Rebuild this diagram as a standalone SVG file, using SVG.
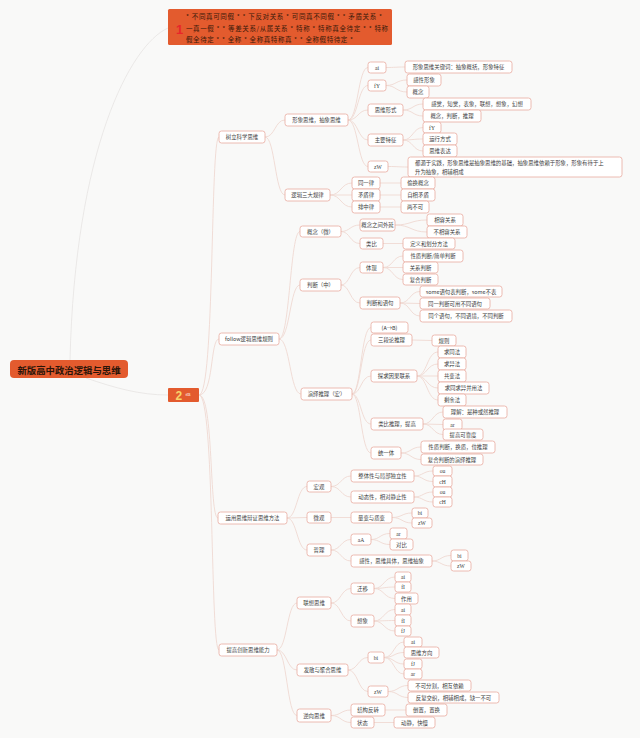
<svg xmlns="http://www.w3.org/2000/svg" width="640" height="738" viewBox="0 0 640 738">
<style>
.n rect{fill:#fff;stroke:#e9aba0;stroke-width:0.8}
.n text{font-family:"Noto Sans CJK SC","Liberation Sans",sans-serif;font-size:5.4px;fill:#3c3c3c;text-anchor:middle;dominant-baseline:central}
.n text.l{font-family:"Liberation Serif","Noto Sans CJK SC",serif;font-size:5.6px}
#links path{fill:none;stroke:#efd9d3;stroke-width:0.9}
#links path.g{stroke:#e4e1e0;stroke-width:0.7}
.big rect{fill:#e35b2e;stroke:none}
.hd{font-family:"Noto Sans CJK SC","Liberation Sans",sans-serif;font-size:6.5px;fill:#3a1a0a;dominant-baseline:central}
</style>
<rect width="640" height="738" fill="#f9f9f8"/>
<g id="links">
<path class="g" d="M70 360C75 150 130 45 168 28"/>
<path class="g" d="M86 378C115 388 140 395 168 395"/>
<path d="M199 395C215 395 210 137 219 137"/>
<path d="M199 395C214 395 210 339 219 339"/>
<path d="M199 395C214 395 209 518 218 518"/>
<path d="M199 395C215 395 210 650 219 650"/>
<path d="M265 137C275 137 275 120 285 120"/>
<path d="M265 137C275 137 275 195 285 195"/>
<path d="M348 120C358 120 358 67.5 368 67.5"/>
<path d="M348 120C358 120 358 85.5 368 85.5"/>
<path d="M348 120C358 120 358 110 368 110"/>
<path d="M348 120C358 120 358 140 368 140"/>
<path d="M348 120C358 120 358 166.5 368 166.5"/>
<path d="M386 67.5C395 67.5 395 67 405 67"/>
<path d="M386 85.5C396 85.5 396 80 407 80"/>
<path d="M386 85.5C396 85.5 396 92 407 92"/>
<path d="M403 110C413 110 413 104 423 104"/>
<path d="M403 110C413 110 413 116 423 116"/>
<path d="M403 140C413 140 413 127.5 423 127.5"/>
<path d="M403 140C413 140 413 139 423 139"/>
<path d="M403 140C413 140 413 151 423 151"/>
<path d="M388 166.5C398 166.5 398 167 408 167"/>
<path d="M330 195C341 195 341 183 352 183"/>
<path d="M330 195L352 195"/>
<path d="M330 195C341 195 341 207 352 207"/>
<path d="M380 183L401 183"/>
<path d="M380 195L401 195"/>
<path d="M380 207L401 207"/>
<path d="M279 339C290 339 290 231.5 300 231.5"/>
<path d="M279 339C290 339 290 285 300 285"/>
<path d="M279 339C290 339 290 394 301 394"/>
<path d="M341 231.5C350 231.5 350 225 360 225"/>
<path d="M341 231.5C350 231.5 350 243.5 360 243.5"/>
<path d="M395 225C411 225 411 220 427 220"/>
<path d="M395 225C411 225 411 232 427 232"/>
<path d="M383 243.5L403 243.5"/>
<path d="M341 285C350 285 350 267.5 360 267.5"/>
<path d="M341 285C350 285 350 303 360 303"/>
<path d="M383 267.5C393 267.5 393 256 403 256"/>
<path d="M383 267.5L403 267.5"/>
<path d="M383 267.5C393 267.5 393 279.5 403 279.5"/>
<path d="M400 303C410 303 410 291.5 420 291.5"/>
<path d="M400 303L420 303.5"/>
<path d="M400 303C410 303 410 316 420 316"/>
<path d="M352 394C361 394 361 327.5 371 327.5"/>
<path d="M352 394C361 394 361 340 371 340"/>
<path d="M352 394C361 394 361 376 371 376"/>
<path d="M352 394C361 394 361 424 371 424"/>
<path d="M352 394C361 394 361 453 371 453"/>
<path d="M412 340L432 340.5"/>
<path d="M417 376C427 376 427 352 438 352"/>
<path d="M417 376C427 376 427 364 438 364"/>
<path d="M417 376L438 376"/>
<path d="M417 376C427 376 427 388 438 388"/>
<path d="M417 376C427 376 427 400 438 400"/>
<path d="M423 424C433 424 433 412 443 412"/>
<path d="M423 424L443 424.5"/>
<path d="M423 424C433 424 433 434.5 443 434.5"/>
<path d="M401 453C411 453 411 447 421 447"/>
<path d="M401 453C411 453 411 459.5 421 459.5"/>
<path d="M287 518C297 518 297 486.5 307 486.5"/>
<path d="M287 518L307 517.5"/>
<path d="M287 518C297 518 297 550 307 550"/>
<path d="M331 486.5C341 486.5 341 476 351 476"/>
<path d="M331 486.5C341 486.5 341 497 351 497"/>
<path d="M414 476C423 476 423 471 433 471"/>
<path d="M414 476C423 476 423 481.5 433 481.5"/>
<path d="M414 497C423 497 423 492 433 492"/>
<path d="M414 497C423 497 423 502 433 502"/>
<path d="M331 517.5L351 517.5"/>
<path d="M392 517.5C402 517.5 402 513 412 513"/>
<path d="M392 517.5C402 517.5 402 523 412 523"/>
<path d="M331 550C341 550 341 539.5 351 539.5"/>
<path d="M331 550C341 550 341 561 351 561"/>
<path d="M371 539.5C380 539.5 380 533.5 390 533.5"/>
<path d="M371 539.5C380 539.5 380 544.5 390 544.5"/>
<path d="M432 561C441 561 441 555.5 451 555.5"/>
<path d="M432 561C441 561 441 566 451 566"/>
<path d="M277 650C287 650 287 603 297 603"/>
<path d="M277 650C287 650 287 670 297 670"/>
<path d="M277 650C287 650 287 715.5 297 715.5"/>
<path d="M331 603C341 603 341 588.5 351 588.5"/>
<path d="M331 603C341 603 341 621 351 621"/>
<path d="M374 588.5C384 588.5 384 577 395 577"/>
<path d="M374 588.5C384 588.5 384 587 395 587"/>
<path d="M374 588.5C384 588.5 384 598.5 395 598.5"/>
<path d="M374 621C384 621 384 609.5 395 609.5"/>
<path d="M374 621C384 621 384 620.5 395 620.5"/>
<path d="M374 621C384 621 384 631 395 631"/>
<path d="M348 670C358 670 358 657.5 368 657.5"/>
<path d="M348 670C358 670 358 691.5 368 691.5"/>
<path d="M384 657.5C394 657.5 394 642 404 642"/>
<path d="M384 657.5C394 657.5 394 652.5 404 652.5"/>
<path d="M384 657.5C394 657.5 394 664 404 664"/>
<path d="M384 657.5C394 657.5 394 674 404 674"/>
<path d="M388 691.5C398 691.5 398 685.5 408 685.5"/>
<path d="M388 691.5C398 691.5 398 697.5 408 697.5"/>
<path d="M331 715.5C341 715.5 341 710 351 710"/>
<path d="M331 715.5C341 715.5 341 722.5 351 722.5"/>
<path d="M385 710L406 710"/>
<path d="M374 722.5L394 722.5"/>
</g>
<g id="root" class="big"><rect x="10" y="360" width="118" height="18" rx="4"/><text x="69" y="369.5" font-family="Noto Sans CJK SC,Liberation Sans,sans-serif" font-size="9.4" font-weight="bold" fill="#2a1408" text-anchor="middle" dominant-baseline="central">新版高中政治逻辑与思维</text></g>
<g id="n1" class="big"><rect x="168" y="9" width="224" height="36" rx="1.5"/>
<text x="176" y="29" font-family="Liberation Sans,sans-serif" font-size="13" font-weight="bold" fill="#e8262a" dominant-baseline="central">1</text>
<text class="hd" x="186" y="16" textLength="196" lengthAdjust="spacing">* 不同真可同假 * * 下反对关系 * 可同真不同假 * * 矛盾关系 *</text>
<text class="hd" x="186" y="27.5" textLength="202" lengthAdjust="spacing">一真一假 * * 等差关系/从属关系 * 特称 * 特称真全待定 * * 特称</text>
<text class="hd" x="186" y="38.5" textLength="167" lengthAdjust="spacing">假全待定 * * 全称 * 全称真特称真 * * 全称假特待定 *</text></g>
<g id="n2" class="big"><rect x="168" y="388" width="31" height="14" rx="1"/>
<text x="175.5" y="395.5" font-family="Liberation Sans,sans-serif" font-size="12" font-weight="bold" fill="#f7d46a" dominant-baseline="central">2</text>
<text x="185.5" y="394" font-family="Liberation Serif,serif" font-size="5" fill="#fff" dominant-baseline="central">fB</text></g>
<g class="n" id="A"><rect x="219" y="131" width="46" height="12" rx="2.5"/><text x="242" y="137">树立科学思维</text></g>
<g class="n" id="B"><rect x="219" y="333" width="60" height="12" rx="2.5"/><text x="249" y="339">follow逻辑思维规则</text></g>
<g class="n" id="C"><rect x="218" y="512" width="69" height="12" rx="2.5"/><text x="252.5" y="518">运用思维辩证思维方法</text></g>
<g class="n" id="D"><rect x="219" y="644" width="58" height="12" rx="2.5"/><text x="248" y="650">提高创新思维能力</text></g>
<g class="n" id="A1"><rect x="285" y="114" width="63" height="12" rx="2.5"/><text x="316.5" y="120">形象思维，抽象思维</text></g>
<g class="n" id="A2"><rect x="285" y="189" width="45" height="12" rx="2.5"/><text x="307.5" y="195">逻辑三大规律</text></g>
<g class="n" id="A1a"><rect x="368" y="62" width="18" height="11" rx="2.5"/><text class="l" x="377" y="67.5">ai</text></g>
<g class="n" id="A1b"><rect x="368" y="80" width="18" height="11" rx="2.5"/><text class="l" x="377" y="85.5">fY</text></g>
<g class="n" id="A1c"><rect x="368" y="104" width="35" height="12" rx="2.5"/><text x="385.5" y="110">思维形式</text></g>
<g class="n" id="A1d"><rect x="368" y="134" width="35" height="12" rx="2.5"/><text x="385.5" y="140">主要特征</text></g>
<g class="n" id="A1e"><rect x="368" y="161" width="20" height="11" rx="2.5"/><text class="l" x="378" y="166.5">zW</text></g>
<g class="n" id="A1a1"><rect x="405" y="61" width="107" height="12" rx="2.5"/><text x="458.5" y="67">形象思维关键词：抽象概括，形象特征</text></g>
<g class="n" id="A1b1"><rect x="407" y="74" width="34" height="12" rx="2.5"/><text x="424" y="80">感性形象</text></g>
<g class="n" id="A1b2"><rect x="407" y="86" width="22" height="12" rx="2.5"/><text x="418" y="92">概念</text></g>
<g class="n" id="A1c1"><rect x="423" y="98" width="108" height="12" rx="2.5"/><text x="477" y="104">感觉，知觉，表象，联想，想象，幻想</text></g>
<g class="n" id="A1c2"><rect x="423" y="110" width="58" height="12" rx="2.5"/><text x="452" y="116">概念，判断，推理</text></g>
<g class="n" id="A1d1"><rect x="423" y="122" width="18" height="11" rx="2.5"/><text class="l" x="432" y="127.5">fY</text></g>
<g class="n" id="A1d2"><rect x="423" y="133" width="34" height="12" rx="2.5"/><text x="440" y="139">运行方式</text></g>
<g class="n" id="A1d3"><rect x="423" y="145" width="34" height="12" rx="2.5"/><text x="440" y="151">思维表达</text></g>
<g class="n" id="A1e1"><rect x="408" y="157" width="214" height="20" rx="2.5"/><text x="415" y="163" style="text-anchor:start">都源于实践，形象思维是抽象思维的基础，抽象思维依赖于形象，形象有待于上</text><text x="415" y="172" style="text-anchor:start">升为抽象，相辅相成</text></g>
<g class="n" id="A21"><rect x="352" y="177" width="28" height="12" rx="2.5"/><text x="366" y="183">同一律</text></g>
<g class="n" id="A22"><rect x="352" y="189" width="28" height="12" rx="2.5"/><text x="366" y="195">矛盾律</text></g>
<g class="n" id="A23"><rect x="352" y="201" width="28" height="12" rx="2.5"/><text x="366" y="207">排中律</text></g>
<g class="n" id="A211"><rect x="401" y="177" width="34" height="12" rx="2.5"/><text x="418" y="183">偷换概念</text></g>
<g class="n" id="A221"><rect x="401" y="189" width="34" height="12" rx="2.5"/><text x="418" y="195">自相矛盾</text></g>
<g class="n" id="A231"><rect x="401" y="201" width="28" height="12" rx="2.5"/><text x="415" y="207">两不可</text></g>
<g class="n" id="B1"><rect x="300" y="226" width="41" height="11" rx="2.5"/><text x="320.5" y="231.5">概念（微）</text></g>
<g class="n" id="B2"><rect x="300" y="279" width="41" height="12" rx="2.5"/><text x="320.5" y="285">判断（中）</text></g>
<g class="n" id="B3"><rect x="301" y="388" width="51" height="12" rx="2.5"/><text x="326.5" y="394">演绎推理（宏）</text></g>
<g class="n" id="B11"><rect x="360" y="219" width="35" height="12" rx="2.5"/><text x="377.5" y="225">概念之间外延</text></g>
<g class="n" id="B12"><rect x="360" y="238" width="23" height="11" rx="2.5"/><text x="371.5" y="243.5">类比</text></g>
<g class="n" id="B111"><rect x="427" y="214" width="36" height="12" rx="2.5"/><text x="445" y="220">相容关系</text></g>
<g class="n" id="B112"><rect x="427" y="226" width="40" height="12" rx="2.5"/><text x="447" y="232">不相容关系</text></g>
<g class="n" id="B121"><rect x="403" y="238" width="52" height="11" rx="2.5"/><text x="429" y="243.5">定义和划分方法</text></g>
<g class="n" id="B21"><rect x="360" y="262" width="23" height="11" rx="2.5"/><text x="371.5" y="267.5">体现</text></g>
<g class="n" id="B22"><rect x="360" y="297" width="40" height="12" rx="2.5"/><text x="380" y="303">判断和语句</text></g>
<g class="n" id="B211"><rect x="403" y="250" width="60" height="12" rx="2.5"/><text x="433" y="256">性质判断/简单判断</text></g>
<g class="n" id="B212"><rect x="403" y="262" width="35" height="11" rx="2.5"/><text x="420.5" y="267.5">关系判断</text></g>
<g class="n" id="B213"><rect x="403" y="274" width="35" height="11" rx="2.5"/><text x="420.5" y="279.5">复合判断</text></g>
<g class="n" id="B221"><rect x="420" y="286" width="82" height="11" rx="2.5"/><text x="461" y="291.5">some语句表判断，some不表</text></g>
<g class="n" id="B222"><rect x="420" y="298" width="70" height="11" rx="2.5"/><text x="455" y="303.5">同一判断可用不同语句</text></g>
<g class="n" id="B223"><rect x="420" y="310" width="92" height="12" rx="2.5"/><text x="466" y="316">同个语句，不同语境，不同判断</text></g>
<g class="n" id="B31"><rect x="371" y="322" width="37" height="11" rx="2.5"/><text x="389.5" y="327.5">(A→B)</text></g>
<g class="n" id="B32"><rect x="371" y="334" width="41" height="12" rx="2.5"/><text x="391.5" y="340">三段论推理</text></g>
<g class="n" id="B33"><rect x="371" y="370" width="46" height="12" rx="2.5"/><text x="394" y="376">探求因果联系</text></g>
<g class="n" id="B34"><rect x="371" y="418" width="52" height="12" rx="2.5"/><text x="397" y="424">类比推理，提高</text></g>
<g class="n" id="B35"><rect x="371" y="447" width="30" height="12" rx="2.5"/><text x="386" y="453">统一体</text></g>
<g class="n" id="B321"><rect x="432" y="335" width="24" height="11" rx="2.5"/><text x="444" y="340.5">规则</text></g>
<g class="n" id="B331"><rect x="438" y="346" width="28" height="12" rx="2.5"/><text x="452" y="352">求同法</text></g>
<g class="n" id="B332"><rect x="438" y="358" width="28" height="12" rx="2.5"/><text x="452" y="364">求异法</text></g>
<g class="n" id="B333"><rect x="438" y="370" width="28" height="12" rx="2.5"/><text x="452" y="376">共变法</text></g>
<g class="n" id="B334"><rect x="438" y="382" width="51" height="12" rx="2.5"/><text x="463.5" y="388">求同求异并用法</text></g>
<g class="n" id="B335"><rect x="438" y="394" width="28" height="12" rx="2.5"/><text x="452" y="400">剩余法</text></g>
<g class="n" id="B341"><rect x="443" y="406" width="64" height="12" rx="2.5"/><text x="475" y="412">理解：是种或然推理</text></g>
<g class="n" id="B342"><rect x="443" y="419" width="19" height="11" rx="2.5"/><text class="l" x="452.5" y="424.5">ar</text></g>
<g class="n" id="B343"><rect x="443" y="429" width="40" height="11" rx="2.5"/><text x="463" y="434.5">提高可靠度</text></g>
<g class="n" id="B351"><rect x="421" y="441" width="74" height="12" rx="2.5"/><text x="458" y="447">性质判断，换质，位推理</text></g>
<g class="n" id="B352"><rect x="421" y="454" width="62" height="11" rx="2.5"/><text x="452" y="459.5">复合判断的演绎推理</text></g>
<g class="n" id="C1"><rect x="307" y="481" width="24" height="11" rx="2.5"/><text x="319" y="486.5">宏观</text></g>
<g class="n" id="C2"><rect x="307" y="512" width="24" height="11" rx="2.5"/><text x="319" y="517.5">微观</text></g>
<g class="n" id="C3"><rect x="307" y="544" width="24" height="12" rx="2.5"/><text x="319" y="550">哲理</text></g>
<g class="n" id="C11"><rect x="351" y="470" width="63" height="12" rx="2.5"/><text x="382.5" y="476">整体性与局部独立性</text></g>
<g class="n" id="C12"><rect x="351" y="491" width="63" height="12" rx="2.5"/><text x="382.5" y="497">动态性，相对静止性</text></g>
<g class="n" id="C111"><rect x="433" y="466" width="19" height="10" rx="2.5"/><text class="l" x="442.5" y="471">ou</text></g>
<g class="n" id="C112"><rect x="433" y="476" width="19" height="11" rx="2.5"/><text class="l" x="442.5" y="481.5">cH</text></g>
<g class="n" id="C121"><rect x="433" y="487" width="19" height="10" rx="2.5"/><text class="l" x="442.5" y="492">ou</text></g>
<g class="n" id="C122"><rect x="433" y="497" width="19" height="10" rx="2.5"/><text class="l" x="442.5" y="502">cH</text></g>
<g class="n" id="C21"><rect x="351" y="512" width="41" height="11" rx="2.5"/><text x="371.5" y="517.5">量变与质变</text></g>
<g class="n" id="C211"><rect x="412" y="508" width="16" height="10" rx="2.5"/><text class="l" x="420" y="513">bi</text></g>
<g class="n" id="C212"><rect x="412" y="518" width="20" height="10" rx="2.5"/><text class="l" x="422" y="523">zW</text></g>
<g class="n" id="C31"><rect x="351" y="534" width="20" height="11" rx="2.5"/><text class="l" x="361" y="539.5">aA</text></g>
<g class="n" id="C32"><rect x="351" y="555" width="81" height="12" rx="2.5"/><text x="391.5" y="561">感性，思维具体，思维抽象</text></g>
<g class="n" id="C311"><rect x="390" y="528" width="17" height="11" rx="2.5"/><text class="l" x="398.5" y="533.5">ar</text></g>
<g class="n" id="C312"><rect x="390" y="539" width="23" height="11" rx="2.5"/><text x="401.5" y="544.5">对比</text></g>
<g class="n" id="C321"><rect x="451" y="550" width="17" height="11" rx="2.5"/><text class="l" x="459.5" y="555.5">bi</text></g>
<g class="n" id="C322"><rect x="451" y="561" width="20" height="10" rx="2.5"/><text class="l" x="461" y="566">zW</text></g>
<g class="n" id="D1"><rect x="297" y="597" width="34" height="12" rx="2.5"/><text x="314" y="603">联想思维</text></g>
<g class="n" id="D2"><rect x="297" y="664" width="51" height="12" rx="2.5"/><text x="322.5" y="670">发散与聚合思维</text></g>
<g class="n" id="D3"><rect x="297" y="709" width="34" height="13" rx="2.5"/><text x="314" y="715.5">逆向思维</text></g>
<g class="n" id="D11"><rect x="351" y="583" width="23" height="11" rx="2.5"/><text x="362.5" y="588.5">迁移</text></g>
<g class="n" id="D12"><rect x="351" y="615" width="23" height="12" rx="2.5"/><text x="362.5" y="621">想象</text></g>
<g class="n" id="D111"><rect x="395" y="572" width="16" height="10" rx="2.5"/><text class="l" x="403" y="577">ai</text></g>
<g class="n" id="D112"><rect x="395" y="582" width="16" height="10" rx="2.5"/><text class="l" x="403" y="587">fI</text></g>
<g class="n" id="D113"><rect x="395" y="593" width="23" height="11" rx="2.5"/><text x="406.5" y="598.5">作用</text></g>
<g class="n" id="D121"><rect x="395" y="604" width="16" height="11" rx="2.5"/><text class="l" x="403" y="609.5">ai</text></g>
<g class="n" id="D122"><rect x="395" y="615" width="16" height="11" rx="2.5"/><text class="l" x="403" y="620.5">fI</text></g>
<g class="n" id="D123"><rect x="395" y="626" width="16" height="10" rx="2.5"/><text class="l" x="403" y="631">fJ</text></g>
<g class="n" id="D21"><rect x="368" y="652" width="16" height="11" rx="2.5"/><text class="l" x="376" y="657.5">bi</text></g>
<g class="n" id="D22"><rect x="368" y="686" width="20" height="11" rx="2.5"/><text class="l" x="378" y="691.5">zW</text></g>
<g class="n" id="D211"><rect x="404" y="637" width="18" height="10" rx="2.5"/><text class="l" x="413" y="642">ai</text></g>
<g class="n" id="D212"><rect x="404" y="647" width="35" height="11" rx="2.5"/><text x="421.5" y="652.5">思维方向</text></g>
<g class="n" id="D213"><rect x="404" y="659" width="18" height="10" rx="2.5"/><text class="l" x="413" y="664">fJ</text></g>
<g class="n" id="D214"><rect x="404" y="669" width="18" height="10" rx="2.5"/><text class="l" x="413" y="674">ar</text></g>
<g class="n" id="D221"><rect x="408" y="680" width="63" height="11" rx="2.5"/><text x="439.5" y="685.5">不可分割，相互依赖</text></g>
<g class="n" id="D222"><rect x="408" y="692" width="91" height="11" rx="2.5"/><text x="453.5" y="697.5">反复交织，相辅相成，缺一不可</text></g>
<g class="n" id="D31"><rect x="351" y="704" width="34" height="12" rx="2.5"/><text x="368" y="710">结构反转</text></g>
<g class="n" id="D32"><rect x="351" y="717" width="23" height="11" rx="2.5"/><text x="362.5" y="722.5">状态</text></g>
<g class="n" id="D311"><rect x="406" y="704" width="41" height="12" rx="2.5"/><text x="426.5" y="710">倒置，置换</text></g>
<g class="n" id="D321"><rect x="394" y="717" width="41" height="11" rx="2.5"/><text x="414.5" y="722.5">动静，快慢</text></g>
</svg>
